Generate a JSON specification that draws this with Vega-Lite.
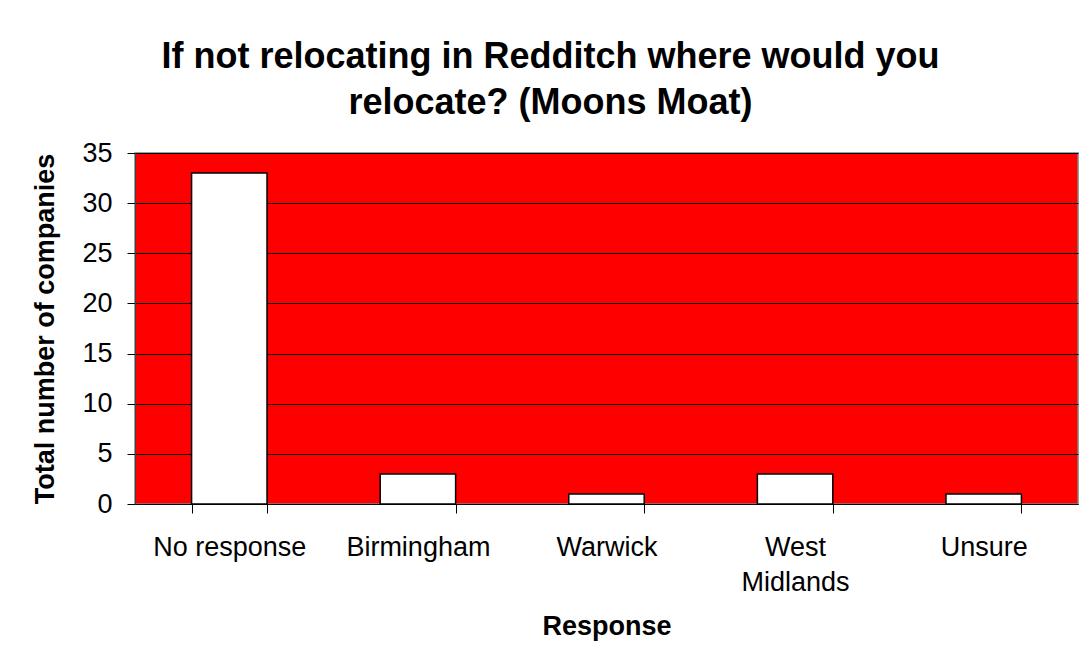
{
  "$schema": "https://vega.github.io/schema/vega-lite/v6.json",
  "autosize": {"type": "none"},
  "width": 943,
  "height": 351,
  "padding": {"left": 135, "top": 153, "right": 7, "bottom": 144},
  "background": "white",
  "title": {
    "text": ["If not relocating in Redditch where would you", "relocate? (Moons Moat)"],
    "font": "Liberation Sans",
    "fontSize": 36,
    "fontWeight": "bold",
    "color": "black",
    "anchor": "middle",
    "dx": -56,
    "lineHeight": 46,
    "offset": 17
  },
  "data": {
    "values": [
      {"response": "No response", "count": 33},
      {"response": "Birmingham", "count": 3},
      {"response": "Warwick", "count": 1},
      {"response": "West Midlands", "count": 3},
      {"response": "Unsure", "count": 1}
    ]
  },
  "mark": {"type": "bar", "fill": "white", "stroke": "black", "strokeWidth": 1.5},
  "encoding": {
    "x": {
      "field": "response",
      "type": "nominal",
      "sort": null,
      "scale": {"paddingInner": 0.6, "paddingOuter": 0.3},
      "axis": {
        "title": "Response",
        "titleFont": "Liberation Sans",
        "titleFontSize": 27,
        "titleFontWeight": "bold",
        "titleColor": "black",
        "titlePadding": 18,
        "labelFont": "Liberation Sans",
        "labelFontSize": 27,
        "labelColor": "black",
        "labelAngle": 0,
        "labelPadding": 21,
        "labelLineHeight": 35,
        "labelExpr": "datum.label == 'West Midlands' ? ['West', 'Midlands'] : datum.label",
        "tickBand": "extent",
        "tickSize": 9,
        "tickColor": "black",
        "domainColor": "black",
        "grid": false
      }
    },
    "y": {
      "field": "count",
      "type": "quantitative",
      "scale": {"domain": [0, 35], "nice": false},
      "axis": {
        "title": "Total number of companies",
        "titleFont": "Liberation Sans",
        "titleFontSize": 27,
        "titleFontWeight": "bold",
        "titleColor": "black",
        "titlePadding": 22,
        "values": [0, 5, 10, 15, 20, 25, 30, 35],
        "labelFont": "Liberation Sans",
        "labelFontSize": 27,
        "labelColor": "black",
        "labelPadding": 15,
        "tickSize": 8,
        "tickColor": "black",
        "domainColor": "#404040",
        "grid": true,
        "gridColor": "black",
        "gridWidth": 1,
        "gridOpacity": 1
      }
    }
  },
  "config": {
    "view": {"fill": "#FF0000", "stroke": "#808080", "strokeWidth": 1.5}
  }
}
